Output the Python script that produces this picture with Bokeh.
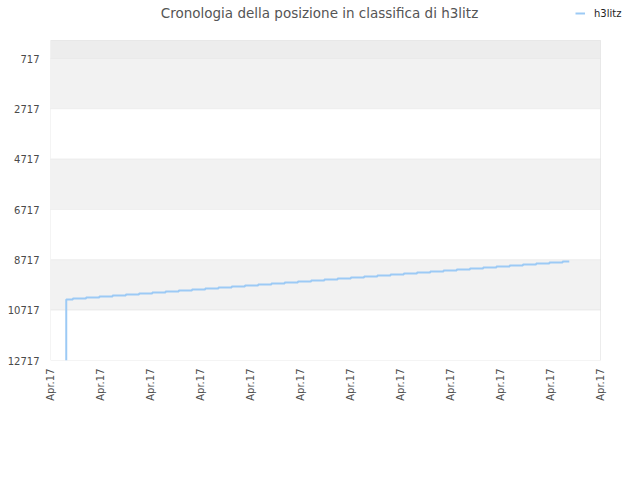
import math
from bokeh.plotting import figure
from bokeh.models import (Range1d, FixedTicker, CustomJSTickFormatter, BoxAnnotation,
                          Label, Legend, LegendItem, ColumnDataSource)
from bokeh.embed import file_html
from bokeh.resources import INLINE

# ---- data ----
title_text = "Cronologia della posizione in classifica di h3litz"
series_name = "h3litz"
start_rank = 12717
days = list(range(39))
ranks = [10293, 10255, 10214, 10176, 10134, 10095, 10056, 10015, 9977, 9936,
         9897, 9856, 9818, 9777, 9739, 9698, 9659, 9618, 9580, 9539,
         9500, 9459, 9421, 9380, 9341, 9301, 9262, 9221, 9183, 9142,
         9103, 9062, 9024, 8983, 8944, 8904, 8865, 8824, 8784]
y_ticks = [717, 2717, 4717, 6717, 8717, 10717, 12717]
x_tick_labels = ["Apr.17"] * 12

# chart area extent (data units)
x_start, x_end = -1.19, 40.36
y_top, y_bottom = 0, 12717

# layout (pixels)
W, H = 640, 480
left, top, plot_w, plot_h = 50, 40, 550, 320
frame_w = W - left
frame_h = top + plot_h
ux = (x_end - x_start) / plot_w
uy = (y_bottom - y_top) / plot_h

p = figure(width=W, height=H, output_backend="svg", toolbar_location=None,
           x_range=Range1d(x_start, x_start + frame_w * ux),
           y_range=Range1d(y_bottom, y_top - top * uy),
           min_border_left=left, min_border_right=0, min_border_top=0,
           min_border_bottom=H - frame_h,
           background_fill_color="white", border_fill_color="white")
p.outline_line_color = None
p.xgrid.visible = False
p.ygrid.visible = False

# alternating bands (their edges act as grid lines)
edges = [y_top] + y_ticks
band_colors = ["#ededed"] + ["#f2f2f2" if i % 2 == 0 else "#ffffff" for i in range(len(y_ticks) - 1)]
for i in range(len(edges) - 1):
    p.add_layout(BoxAnnotation(left=x_start, right=x_end, top=edges[i], bottom=edges[i + 1],
                               fill_color=band_colors[i], fill_alpha=1.0,
                               line_color="#dedede", line_width=1, level="image"))
# chart border
p.add_layout(BoxAnnotation(left=x_start, right=x_end, top=y_top, bottom=y_bottom,
                           fill_alpha=0, line_color="#d6d6d6", line_width=1, level="underlay"))

p.yaxis.ticker = FixedTicker(ticks=y_ticks)
n = len(x_tick_labels)
xt = [x_start + k * (x_end - x_start) / (n - 1) for k in range(n)]
p.xaxis.ticker = FixedTicker(ticks=xt)
p.xaxis.formatter = CustomJSTickFormatter(args=dict(labels=x_tick_labels),
                                          code="return labels[index] || '';")
p.xaxis.major_label_orientation = math.pi / 2

for ax in (p.xaxis[0], p.yaxis[0]):
    ax.axis_line_color = None
    ax.major_tick_line_color = None
    ax.minor_tick_line_color = None
    ax.major_tick_out = 0
    ax.major_tick_in = 0
    ax.minor_tick_out = 0
    ax.minor_tick_in = 0
    ax.major_label_text_font = "DejaVu Sans"
    ax.major_label_text_font_size = "10px"
    ax.major_label_text_color = "#4a4a4a"
p.yaxis.major_label_standoff = 11
p.xaxis.major_label_standoff = 8

src = ColumnDataSource(dict(x=[days[0]] + days, y=[start_rank] + ranks))
r = p.step("x", "y", source=src, mode="center", line_color="#9ccaf5", line_width=2)

p.title.visible = False
p.add_layout(Label(x=319 - left, y=frame_h - 12, x_units="screen", y_units="screen",
                   text=title_text, text_align="center", text_baseline="middle",
                   text_font="DejaVu Sans", text_font_size="13.5px", text_color="#555555"))

legend = Legend(items=[LegendItem(label=series_name, renderers=[r])],
                location=(575 - left, frame_h - 19),
                padding=0, margin=0, spacing=0, glyph_width=10, glyph_height=12,
                label_standoff=9, label_text_font="DejaVu Sans", label_text_font_size="10px",
                label_text_color="#222222", border_line_color=None,
                background_fill_alpha=0)
p.add_layout(legend, "center")

open("out.html", "w").write(file_html(p, INLINE))
